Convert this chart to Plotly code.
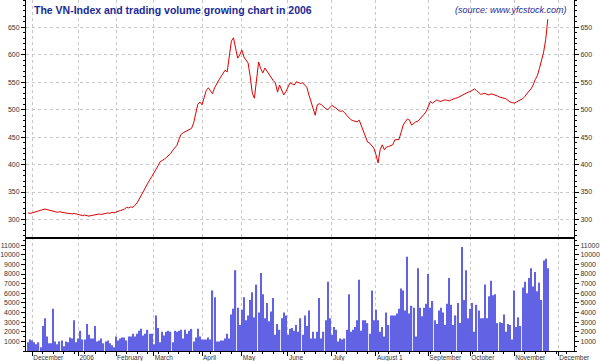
import plotly.graph_objects as go

# VN-Index daily close (trading-day sequence, late Nov 2005 -> late Nov 2006)
vn_index = [
    312, 311, 312, 313, 314, 315, 316, 318, 319, 318,
    317, 316, 315, 314, 313, 314, 313, 312, 312, 311,
    311, 310, 311, 310, 309, 308, 307, 308, 307, 306,
    307, 308, 309, 309, 310, 309, 310, 311, 312, 311,
    313, 312, 314, 315, 316, 317, 319, 322, 321, 323,
    322, 326, 330, 337, 344, 352, 360, 366, 372, 378,
    384, 390, 398, 405, 407, 410, 413, 417, 420, 426,
    430, 435, 446, 455, 458, 460, 462, 465, 466, 476,
    494, 510, 514, 509, 522, 535, 540, 534, 529, 540,
    548, 554, 560, 566, 572, 569, 598, 625, 631, 615,
    594, 600, 609, 596, 590, 585, 560, 530, 521, 554,
    587, 575, 567, 576, 570, 565, 558, 553, 549, 532,
    545, 536, 527, 533, 540, 549, 547, 545, 551, 550,
    548, 549, 545, 541, 527, 515, 505, 490, 509, 511,
    509, 505, 502, 500, 504, 508, 505, 503, 499, 497,
    498, 495, 490, 485, 482, 480, 479, 478, 481, 470,
    460, 450, 441, 439, 435, 430, 418, 403, 427, 436,
    427, 432, 433, 434, 436, 445, 446, 446, 459, 472,
    478, 483, 481, 472, 475, 478, 479, 483, 487, 492,
    497, 506, 515, 512, 515, 518, 516, 515, 517, 518,
    517, 516, 518, 520, 521, 522, 524, 527, 529, 530,
    532, 533, 536, 538, 535, 531, 528, 529, 530, 528,
    527, 529, 528, 526, 525, 523, 522, 521, 520, 517,
    514, 513, 512, 514, 516, 518, 520, 524, 530, 534,
    538, 545, 555, 562, 575, 590, 605, 628, 665, 640,
]

# Daily trading volume
volume = [
    900, 1200, 1100, 900, 700, 900, 400, 2600, 3400, 1500,
    800, 800, 4400, 1000, 700, 1000, 1100, 500, 1000, 900,
    1400, 1300, 3200, 900, 1300, 2100, 1200, 1200, 2800, 1700,
    1300, 1300, 2600, 1000, 1100, 1300, 800, 1000, 1100, 800,
    600, 400, 1500, 1100, 1300, 1400, 1400, 1100, 1500, 1500,
    1800, 1500, 1800, 2100, 2300, 1600, 1800, 2200, 1800, 1800,
    700, 3700, 2400, 900, 2000, 1600, 2000, 2100, 2000, 900,
    2100, 2000, 2100, 2200, 1300, 2200, 1800, 2100, 2300, 1000,
    1400, 2300, 1500, 1200,
    1200, 1200, 1400, 1200, 6300, 5600, 1000, 1000, 1100, 1100,
    1300, 1800, 1300, 3800, 4400, 8400, 4500, 2700, 4300, 5600,
    3200, 3700, 5300, 6100, 3500, 6900, 4000, 8100, 5900, 3400,
    5000, 3100, 4100, 5500, 1700, 2800, 2200, 3400, 4000, 3700,
    1700, 2300, 2400, 2100, 2700, 2000, 3400, 1700, 3700, 2600,
    4200, 1300, 2000, 1300, 2000, 5500, 1300, 2000, 3200, 7200,
    3400, 1700, 2500, 2200, 1000, 1300, 1200, 1300, 2200, 5900,
    2000, 2200, 2500, 3200, 7400, 2100, 3200, 3200, 2900, 1800,
    6300, 3200, 4300, 3200,
    2000, 2500, 1500, 4000, 2700, 3700, 3700, 3700, 3900, 4400,
    6500, 6300, 4200, 9800, 3900, 4700, 4500, 1500, 8600, 4500,
    3600, 4500, 4900, 8000, 4500, 5200, 3200, 2800, 4200, 4500,
    4000, 2700, 4900, 7600, 4800, 2700, 3700, 5000, 2900, 10800,
    5300, 8400, 3400, 4400, 5000, 2000, 4800, 4200, 3400, 3400,
    6900, 3400, 5700, 7300, 5800, 5900, 2900, 3000, 2900, 3800,
    2000, 2800, 2700, 1200, 6300, 2500, 3500, 2600, 6600, 7200,
    6000, 7600, 8600, 6700, 8200, 6200, 7100, 5300, 9400, 9600,
    8600,
]

n = min(len(vn_index), len(volume))
vn_index = vn_index[:n]
volume = volume[:n]
day = list(range(n))

# month-start positions (trading-day index) and labels
month_pos = [2, 24, 42, 60, 83, 102, 124, 145, 166, 191, 211, 232, 253]
month_labels = ["December", "2006", "February", "March", "April", "May", "June",
                "July", "August 1", "September", "October", "November", "December"]

index_ticks = [300, 350, 400, 450, 500, 550, 600, 650]
volume_ticks = [1000, 2000, 3000, 4000, 5000, 6000, 7000, 8000, 9000, 10000, 11000]

FONT = "Liberation Sans, Arial, sans-serif"
tickfont = dict(family="Liberation Sans, Arial, sans-serif", size=7, color="#333333")
grid = dict(showgrid=True, gridcolor="#c8c8c8", griddash="dot", gridwidth=1)

fig = go.Figure()
fig.add_trace(go.Scatter(x=day, y=vn_index, mode="lines", xaxis="x2", yaxis="y",
                         line=dict(color="#e00000", width=1), showlegend=False,
                         hoverinfo="skip"))
fig.add_trace(go.Scatter(x=day, y=vn_index, mode="lines", xaxis="x2", yaxis="y3",
                         line=dict(color="rgba(0,0,0,0)", width=0), showlegend=False,
                         hoverinfo="skip"))
fig.add_trace(go.Bar(x=day, y=volume, xaxis="x", yaxis="y2",
                     marker=dict(color="#6262e4", line=dict(width=0)),
                     showlegend=False, hoverinfo="skip"))
fig.add_trace(go.Bar(x=day, y=volume, xaxis="x", yaxis="y4",
                     marker=dict(color="rgba(0,0,0,0)", line=dict(width=0)),
                     showlegend=False, hoverinfo="skip"))

split = (351 - 237) / 351
xr = [-1, 260.5]

yax_common = dict(tickmode="array", ticks="outside", ticklen=4, tickcolor="black",
                  showline=True, linecolor="black", linewidth=1, tickfont=tickfont,
                  zeroline=False, automargin=False)

fig.update_layout(
    width=600, height=361,
    margin=dict(l=26, r=26, t=0, b=10, pad=0),
    paper_bgcolor="white", plot_bgcolor="white",
    bargap=0.42, barmode="overlay",
    xaxis=dict(domain=[0, 1], anchor="y2", range=xr, automargin=False,
               tickmode="array", tickvals=month_pos, ticktext=month_labels,
               ticklabelposition="outside right",
               ticks="outside", ticklen=4, tickcolor="black",
               minor=dict(ticks="outside", ticklen=2, dtick=5, tick0=2, tickcolor="black"),
               showline=True, linecolor="black", linewidth=1,
               tickfont=dict(family="Liberation Sans, Arial, sans-serif", size=6.5, color="#333333"),
               zeroline=False, **grid),
    xaxis2=dict(domain=[0, 1], anchor="y", range=xr, matches="x", automargin=False,
                tickmode="array", tickvals=month_pos, showticklabels=False,
                ticks="", showline=True, linecolor="black", linewidth=1.5,
                zeroline=False, **grid),
    yaxis=dict(domain=[split, 1], anchor="x2", range=[268, 700], tickvals=index_ticks,
               minor=dict(ticks="outside", ticklen=2, dtick=10, tick0=300,
                          tickcolor="black", showgrid=False),
               **yax_common, **grid),
    yaxis3=dict(overlaying="y", side="right", anchor="x2", matches="y", tickvals=index_ticks,
                minor=dict(ticks="outside", ticklen=2, dtick=10, tick0=300, tickcolor="black"),
                showgrid=False, **yax_common),
    yaxis2=dict(domain=[0, split], anchor="x", range=[0, 11850], tickvals=volume_ticks,
                tickformat="d",
                minor=dict(ticks="outside", ticklen=2, dtick=500, tickcolor="black"),
                showgrid=False, **yax_common),
    yaxis4=dict(overlaying="y2", side="right", anchor="x", matches="y2", tickvals=volume_ticks,
                tickformat="d",
                minor=dict(ticks="outside", ticklen=2, dtick=500, tickcolor="black"),
                showgrid=False, **yax_common),
    annotations=[
        dict(text="<b>The VN-Index and trading volume growing chart in 2006</b>",
             xref="paper", yref="paper", x=0.011, y=(351 - 10) / 351,
             xanchor="left", yanchor="middle", showarrow=False,
             font=dict(family=FONT, size=10.5, color="#1c2a96")),
        dict(text="<i>(source: www.yfcstock.com)</i>",
             xref="paper", yref="paper", x=0.99, y=(351 - 10) / 351,
             xanchor="right", yanchor="middle", showarrow=False,
             font=dict(family=FONT, size=9, color="#1c2a96")),
    ],
)

fig.write_html("out.html", config={"displayModeBar": False},
               post_script="document.body.style.margin='0';")
